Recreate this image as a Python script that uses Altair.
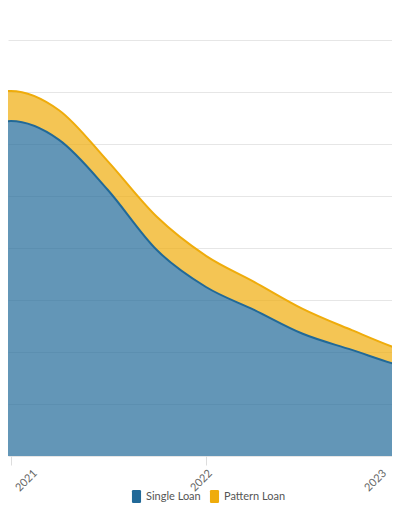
import altair as alt
import pandas as pd

dates = ["2020-10-01", "2021-01-01", "2021-04-01", "2021-07-01", "2021-10-01",
         "2022-01-01", "2022-04-01", "2022-07-01", "2022-10-01", "2023-01-01", "2023-04-01"]
single_loan = [633, 644, 608, 512, 396, 325, 281, 235, 204, 173, 150]
pattern_loan = [61, 58, 57, 55, 64, 60, 54, 48, 38, 31, 28]
series = ["Single Loan", "Pattern Loan"]
colors = ["#216998", "#efac0b"]

rows = []
for d, s, p in zip(dates, single_loan, pattern_loan):
    rows.append({"date": d, "series": series[0], "value": s, "ord": 0})
    rows.append({"date": d, "series": series[1], "value": p, "ord": 1})
df = pd.DataFrame(rows)

label_shift = {
    "condition": [
        {"test": "year(datum.value) <= 2021", "value": 20},
        {"test": "year(datum.value) >= 2023", "value": -21},
    ],
    "value": 0,
}

rounded_rect = ("M-0.5,-1H0.5Q0.7,-1 0.7,-0.8V0.8Q0.7,1 0.5,1H-0.5"
                "Q-0.7,1 -0.7,0.8V-0.8Q-0.7,-1 -0.5,-1Z")

chart = alt.Chart(df).mark_area(
    interpolate="monotone",
    fillOpacity=0.7,
    clip=True,
    line={"strokeWidth": 2, "clip": True},
).encode(
    x=alt.X("date:T",
            scale=alt.Scale(domain=["2020-12-26T12:00:00", "2023-01-02T19:00:00"], nice=False),
            axis=alt.Axis(title=None, format="%Y", tickCount="year", labelAngle=-45,
                          labelAlign="right", labelBaseline="top", labelPadding=2,
                          labelOffset=label_shift,
                          labelColor="#666666", labelFontSize=11, labelFont="Lato",
                          tickColor="#dddddd", tickSize=9, domain=False, grid=False)),
    y=alt.Y("value:Q", stack="zero",
            scale=alt.Scale(domain=[0, 800], nice=False),
            axis=alt.Axis(title=None, labels=False, ticks=False, domain=False,
                          tickCount=8, gridColor="#e6e6e6")),
    color=alt.Color("series:N",
                    scale=alt.Scale(domain=series, range=colors),
                    legend=alt.Legend(title=None, orient="none", direction="horizontal",
                                      legendX=122, legendY=450,
                                      symbolType=rounded_rect,
                                      symbolSize=169, symbolOpacity=1, symbolStrokeWidth=0,
                                      labelFont="Lato", labelFontSize=11, labelOffset=3,
                                      labelColor="#555555", columnPadding=7)),
    order=alt.Order("ord:Q"),
).properties(
    width=394, height=416,
    autosize=alt.AutoSizeParams(type="none"),
    padding={"left": 0, "top": 32, "right": -10, "bottom": 50},
).configure_view(stroke=None)

chart.save("out.html", embed_options={"renderer": "svg", "actions": False})
